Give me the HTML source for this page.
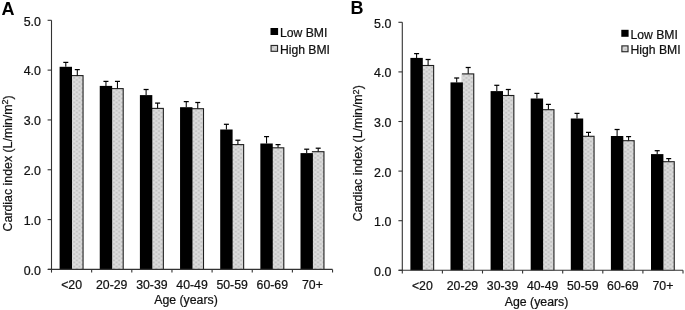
<!DOCTYPE html>
<html><head><meta charset="utf-8"><style>
html,body{margin:0;padding:0;background:#fff;}
body{width:685px;height:310px;overflow:hidden;}
svg{display:block;filter:grayscale(100%) blur(0.3px);}
.t{font-family:"Liberation Sans",sans-serif;font-size:12px;fill:#111;stroke:#111;stroke-width:0.22px;}
.L{font-family:"Liberation Sans",sans-serif;font-size:18px;font-weight:bold;fill:#000;}
</style></head><body>
<svg width="685" height="310" viewBox="0 0 685 310">
<defs><pattern id="pat" width="5.3" height="4.1" patternUnits="userSpaceOnUse"><rect width="5.3" height="4.1" fill="#d6d6d6"/><circle cx="0" cy="0" r="0.9" fill="#bdbdbd"/><circle cx="5.3" cy="0" r="0.9" fill="#bdbdbd"/><circle cx="0" cy="4.1" r="0.9" fill="#bdbdbd"/><circle cx="5.3" cy="4.1" r="0.9" fill="#bdbdbd"/><circle cx="2.65" cy="2.05" r="0.9" fill="#bdbdbd"/><circle cx="2.65" cy="0" r="0.7" fill="#e4e4e4"/><circle cx="2.65" cy="4.1" r="0.7" fill="#e4e4e4"/><circle cx="0" cy="2.05" r="0.7" fill="#e4e4e4"/><circle cx="5.3" cy="2.05" r="0.7" fill="#e4e4e4"/></pattern></defs>
<rect width="685" height="310" fill="#fff"/>
<rect x="71.00" y="75.05" width="12.60" height="194.35" fill="#1e1e1e"/>
<rect x="71.00" y="76.15" width="11.50" height="193.25" fill="url(#pat)"/>
<rect x="59.60" y="66.80" width="12.40" height="202.60" fill="#000"/>
<line x1="65.80" y1="66.80" x2="65.80" y2="62.40" stroke="#000" stroke-width="1.05"/>
<line x1="63.30" y1="62.40" x2="68.30" y2="62.40" stroke="#000" stroke-width="1.25"/>
<line x1="77.30" y1="75.40" x2="77.30" y2="69.60" stroke="#000" stroke-width="1.05"/>
<line x1="74.80" y1="69.60" x2="79.80" y2="69.60" stroke="#000" stroke-width="1.25"/>
<rect x="111.15" y="88.05" width="12.60" height="181.35" fill="#1e1e1e"/>
<rect x="111.15" y="89.15" width="11.50" height="180.25" fill="url(#pat)"/>
<rect x="99.75" y="85.90" width="12.40" height="183.50" fill="#000"/>
<line x1="105.95" y1="85.90" x2="105.95" y2="81.40" stroke="#000" stroke-width="1.05"/>
<line x1="103.45" y1="81.40" x2="108.45" y2="81.40" stroke="#000" stroke-width="1.25"/>
<line x1="117.45" y1="88.40" x2="117.45" y2="81.40" stroke="#000" stroke-width="1.05"/>
<line x1="114.95" y1="81.40" x2="119.95" y2="81.40" stroke="#000" stroke-width="1.25"/>
<rect x="151.30" y="107.85" width="12.60" height="161.55" fill="#1e1e1e"/>
<rect x="151.30" y="108.95" width="11.50" height="160.45" fill="url(#pat)"/>
<rect x="139.90" y="95.10" width="12.40" height="174.30" fill="#000"/>
<line x1="146.10" y1="95.10" x2="146.10" y2="89.50" stroke="#000" stroke-width="1.05"/>
<line x1="143.60" y1="89.50" x2="148.60" y2="89.50" stroke="#000" stroke-width="1.25"/>
<line x1="157.60" y1="108.20" x2="157.60" y2="103.10" stroke="#000" stroke-width="1.05"/>
<line x1="155.10" y1="103.10" x2="160.10" y2="103.10" stroke="#000" stroke-width="1.25"/>
<rect x="191.45" y="108.15" width="12.60" height="161.25" fill="#1e1e1e"/>
<rect x="191.45" y="109.25" width="11.50" height="160.15" fill="url(#pat)"/>
<rect x="180.05" y="107.20" width="12.40" height="162.20" fill="#000"/>
<line x1="186.25" y1="107.20" x2="186.25" y2="101.60" stroke="#000" stroke-width="1.05"/>
<line x1="183.75" y1="101.60" x2="188.75" y2="101.60" stroke="#000" stroke-width="1.25"/>
<line x1="197.75" y1="108.50" x2="197.75" y2="102.50" stroke="#000" stroke-width="1.05"/>
<line x1="195.25" y1="102.50" x2="200.25" y2="102.50" stroke="#000" stroke-width="1.25"/>
<rect x="231.60" y="144.05" width="12.60" height="125.35" fill="#1e1e1e"/>
<rect x="231.60" y="145.15" width="11.50" height="124.25" fill="url(#pat)"/>
<rect x="220.20" y="129.50" width="12.40" height="139.90" fill="#000"/>
<line x1="226.40" y1="129.50" x2="226.40" y2="124.30" stroke="#000" stroke-width="1.05"/>
<line x1="223.90" y1="124.30" x2="228.90" y2="124.30" stroke="#000" stroke-width="1.25"/>
<line x1="237.90" y1="144.40" x2="237.90" y2="140.20" stroke="#000" stroke-width="1.05"/>
<line x1="235.40" y1="140.20" x2="240.40" y2="140.20" stroke="#000" stroke-width="1.25"/>
<rect x="271.75" y="147.25" width="12.60" height="122.15" fill="#1e1e1e"/>
<rect x="271.75" y="148.35" width="11.50" height="121.05" fill="url(#pat)"/>
<rect x="260.35" y="143.50" width="12.40" height="125.90" fill="#000"/>
<line x1="266.55" y1="143.50" x2="266.55" y2="136.60" stroke="#000" stroke-width="1.05"/>
<line x1="264.05" y1="136.60" x2="269.05" y2="136.60" stroke="#000" stroke-width="1.25"/>
<line x1="278.05" y1="147.60" x2="278.05" y2="144.60" stroke="#000" stroke-width="1.05"/>
<line x1="275.55" y1="144.60" x2="280.55" y2="144.60" stroke="#000" stroke-width="1.25"/>
<rect x="311.90" y="151.15" width="12.60" height="118.25" fill="#1e1e1e"/>
<rect x="311.90" y="152.25" width="11.50" height="117.15" fill="url(#pat)"/>
<rect x="300.50" y="153.10" width="12.40" height="116.30" fill="#000"/>
<line x1="306.70" y1="153.10" x2="306.70" y2="149.20" stroke="#000" stroke-width="1.05"/>
<line x1="304.20" y1="149.20" x2="309.20" y2="149.20" stroke="#000" stroke-width="1.25"/>
<line x1="318.20" y1="151.50" x2="318.20" y2="148.20" stroke="#000" stroke-width="1.05"/>
<line x1="315.70" y1="148.20" x2="320.70" y2="148.20" stroke="#000" stroke-width="1.25"/>
<line x1="51.50" y1="20.30" x2="51.50" y2="272.60" stroke="#333" stroke-width="1.1"/>
<line x1="47.90" y1="269.40" x2="332.55" y2="269.40" stroke="#333" stroke-width="1.1"/>
<line x1="91.65" y1="269.40" x2="91.65" y2="272.60" stroke="#333" stroke-width="1.1"/>
<line x1="131.80" y1="269.40" x2="131.80" y2="272.60" stroke="#333" stroke-width="1.1"/>
<line x1="171.95" y1="269.40" x2="171.95" y2="272.60" stroke="#333" stroke-width="1.1"/>
<line x1="212.10" y1="269.40" x2="212.10" y2="272.60" stroke="#333" stroke-width="1.1"/>
<line x1="252.25" y1="269.40" x2="252.25" y2="272.60" stroke="#333" stroke-width="1.1"/>
<line x1="292.40" y1="269.40" x2="292.40" y2="272.60" stroke="#333" stroke-width="1.1"/>
<line x1="332.55" y1="269.40" x2="332.55" y2="272.60" stroke="#333" stroke-width="1.1"/>
<line x1="47.60" y1="269.40" x2="51.50" y2="269.40" stroke="#333" stroke-width="1.1"/>
<text x="40.90" y="274.70" text-anchor="end" class="t" style="font-size:12.4px">0.0</text>
<line x1="47.60" y1="219.58" x2="51.50" y2="219.58" stroke="#333" stroke-width="1.1"/>
<text x="40.90" y="224.88" text-anchor="end" class="t" style="font-size:12.4px">1.0</text>
<line x1="47.60" y1="169.76" x2="51.50" y2="169.76" stroke="#333" stroke-width="1.1"/>
<text x="40.90" y="175.06" text-anchor="end" class="t" style="font-size:12.4px">2.0</text>
<line x1="47.60" y1="119.94" x2="51.50" y2="119.94" stroke="#333" stroke-width="1.1"/>
<text x="40.90" y="125.24" text-anchor="end" class="t" style="font-size:12.4px">3.0</text>
<line x1="47.60" y1="70.12" x2="51.50" y2="70.12" stroke="#333" stroke-width="1.1"/>
<text x="40.90" y="75.42" text-anchor="end" class="t" style="font-size:12.4px">4.0</text>
<line x1="47.60" y1="20.30" x2="51.50" y2="20.30" stroke="#333" stroke-width="1.1"/>
<text x="40.90" y="25.60" text-anchor="end" class="t" style="font-size:12.4px">5.0</text>
<text x="71.58" y="289.00" text-anchor="middle" class="t" style="font-size:12.3px">&lt;20</text>
<text x="111.72" y="289.00" text-anchor="middle" class="t" style="font-size:12.3px">20-29</text>
<text x="151.88" y="289.00" text-anchor="middle" class="t" style="font-size:12.3px">30-39</text>
<text x="192.03" y="289.00" text-anchor="middle" class="t" style="font-size:12.3px">40-49</text>
<text x="232.17" y="289.00" text-anchor="middle" class="t" style="font-size:12.3px">50-59</text>
<text x="272.32" y="289.00" text-anchor="middle" class="t" style="font-size:12.3px">60-69</text>
<text x="312.47" y="289.00" text-anchor="middle" class="t" style="font-size:12.3px">70+</text>
<text x="154.20" y="304.30" class="t" style="font-size:12.3px">Age (years)</text>
<text transform="translate(12.00,231.40) rotate(-90)" class="t" style="font-size:12.35px">Cardiac index (L/min/m<tspan dy="-3.6" style="font-size:9px">2</tspan><tspan dy="3.6">)</tspan></text>
<rect x="270.50" y="28.00" width="7.60" height="7" fill="#000"/>
<rect x="270.50" y="44.90" width="7.60" height="7" fill="#2a2a2a"/>
<rect x="271.65" y="46.05" width="5.30" height="4.7" fill="url(#pat)"/>
<text x="279.90" y="36.90" class="t" style="font-size:12.2px">Low BMI</text>
<text x="279.90" y="54.30" class="t" style="font-size:12.2px">High BMI</text>
<text x="1.50" y="14.60" class="L">A</text>
<rect x="421.80" y="64.95" width="12.40" height="205.35" fill="#1e1e1e"/>
<rect x="421.80" y="66.05" width="11.30" height="204.25" fill="url(#pat)"/>
<rect x="410.40" y="57.90" width="12.40" height="212.40" fill="#000"/>
<line x1="416.60" y1="57.90" x2="416.60" y2="53.60" stroke="#000" stroke-width="1.05"/>
<line x1="414.10" y1="53.60" x2="419.10" y2="53.60" stroke="#000" stroke-width="1.25"/>
<line x1="428.10" y1="65.30" x2="428.10" y2="59.50" stroke="#000" stroke-width="1.05"/>
<line x1="425.60" y1="59.50" x2="430.60" y2="59.50" stroke="#000" stroke-width="1.25"/>
<rect x="461.90" y="73.35" width="12.40" height="196.95" fill="#1e1e1e"/>
<rect x="461.90" y="74.45" width="11.30" height="195.85" fill="url(#pat)"/>
<rect x="450.50" y="82.40" width="12.40" height="187.90" fill="#000"/>
<line x1="456.70" y1="82.40" x2="456.70" y2="78.00" stroke="#000" stroke-width="1.05"/>
<line x1="454.20" y1="78.00" x2="459.20" y2="78.00" stroke="#000" stroke-width="1.25"/>
<line x1="468.20" y1="73.70" x2="468.20" y2="67.50" stroke="#000" stroke-width="1.05"/>
<line x1="465.70" y1="67.50" x2="470.70" y2="67.50" stroke="#000" stroke-width="1.25"/>
<rect x="502.00" y="94.95" width="12.40" height="175.35" fill="#1e1e1e"/>
<rect x="502.00" y="96.05" width="11.30" height="174.25" fill="url(#pat)"/>
<rect x="490.60" y="91.10" width="12.40" height="179.20" fill="#000"/>
<line x1="496.80" y1="91.10" x2="496.80" y2="85.30" stroke="#000" stroke-width="1.05"/>
<line x1="494.30" y1="85.30" x2="499.30" y2="85.30" stroke="#000" stroke-width="1.25"/>
<line x1="508.30" y1="95.30" x2="508.30" y2="89.50" stroke="#000" stroke-width="1.05"/>
<line x1="505.80" y1="89.50" x2="510.80" y2="89.50" stroke="#000" stroke-width="1.25"/>
<rect x="542.10" y="109.15" width="12.40" height="161.15" fill="#1e1e1e"/>
<rect x="542.10" y="110.25" width="11.30" height="160.05" fill="url(#pat)"/>
<rect x="530.70" y="98.50" width="12.40" height="171.80" fill="#000"/>
<line x1="536.90" y1="98.50" x2="536.90" y2="93.40" stroke="#000" stroke-width="1.05"/>
<line x1="534.40" y1="93.40" x2="539.40" y2="93.40" stroke="#000" stroke-width="1.25"/>
<line x1="548.40" y1="109.50" x2="548.40" y2="104.40" stroke="#000" stroke-width="1.05"/>
<line x1="545.90" y1="104.40" x2="550.90" y2="104.40" stroke="#000" stroke-width="1.25"/>
<rect x="582.20" y="135.75" width="12.40" height="134.55" fill="#1e1e1e"/>
<rect x="582.20" y="136.85" width="11.30" height="133.45" fill="url(#pat)"/>
<rect x="570.80" y="118.50" width="12.40" height="151.80" fill="#000"/>
<line x1="577.00" y1="118.50" x2="577.00" y2="113.40" stroke="#000" stroke-width="1.05"/>
<line x1="574.50" y1="113.40" x2="579.50" y2="113.40" stroke="#000" stroke-width="1.25"/>
<line x1="588.50" y1="136.10" x2="588.50" y2="132.40" stroke="#000" stroke-width="1.05"/>
<line x1="586.00" y1="132.40" x2="591.00" y2="132.40" stroke="#000" stroke-width="1.25"/>
<rect x="622.30" y="140.15" width="12.40" height="130.15" fill="#1e1e1e"/>
<rect x="622.30" y="141.25" width="11.30" height="129.05" fill="url(#pat)"/>
<rect x="610.90" y="136.00" width="12.40" height="134.30" fill="#000"/>
<line x1="617.10" y1="136.00" x2="617.10" y2="129.50" stroke="#000" stroke-width="1.05"/>
<line x1="614.60" y1="129.50" x2="619.60" y2="129.50" stroke="#000" stroke-width="1.25"/>
<line x1="628.60" y1="140.50" x2="628.60" y2="136.60" stroke="#000" stroke-width="1.05"/>
<line x1="626.10" y1="136.60" x2="631.10" y2="136.60" stroke="#000" stroke-width="1.25"/>
<rect x="662.40" y="161.15" width="12.40" height="109.15" fill="#1e1e1e"/>
<rect x="662.40" y="162.25" width="11.30" height="108.05" fill="url(#pat)"/>
<rect x="651.00" y="154.10" width="12.40" height="116.20" fill="#000"/>
<line x1="657.20" y1="154.10" x2="657.20" y2="150.70" stroke="#000" stroke-width="1.05"/>
<line x1="654.70" y1="150.70" x2="659.70" y2="150.70" stroke="#000" stroke-width="1.25"/>
<line x1="668.70" y1="161.50" x2="668.70" y2="158.60" stroke="#000" stroke-width="1.05"/>
<line x1="666.20" y1="158.60" x2="671.20" y2="158.60" stroke="#000" stroke-width="1.25"/>
<line x1="402.30" y1="22.30" x2="402.30" y2="273.50" stroke="#333" stroke-width="1.1"/>
<line x1="398.70" y1="270.30" x2="683.00" y2="270.30" stroke="#333" stroke-width="1.1"/>
<line x1="442.40" y1="270.30" x2="442.40" y2="273.50" stroke="#333" stroke-width="1.1"/>
<line x1="482.50" y1="270.30" x2="482.50" y2="273.50" stroke="#333" stroke-width="1.1"/>
<line x1="522.60" y1="270.30" x2="522.60" y2="273.50" stroke="#333" stroke-width="1.1"/>
<line x1="562.70" y1="270.30" x2="562.70" y2="273.50" stroke="#333" stroke-width="1.1"/>
<line x1="602.80" y1="270.30" x2="602.80" y2="273.50" stroke="#333" stroke-width="1.1"/>
<line x1="642.90" y1="270.30" x2="642.90" y2="273.50" stroke="#333" stroke-width="1.1"/>
<line x1="683.00" y1="270.30" x2="683.00" y2="273.50" stroke="#333" stroke-width="1.1"/>
<line x1="398.40" y1="270.30" x2="402.30" y2="270.30" stroke="#333" stroke-width="1.1"/>
<text x="391.30" y="275.80" text-anchor="end" class="t" style="font-size:12.4px">0.0</text>
<line x1="398.40" y1="220.70" x2="402.30" y2="220.70" stroke="#333" stroke-width="1.1"/>
<text x="391.30" y="226.20" text-anchor="end" class="t" style="font-size:12.4px">1.0</text>
<line x1="398.40" y1="171.10" x2="402.30" y2="171.10" stroke="#333" stroke-width="1.1"/>
<text x="391.30" y="176.60" text-anchor="end" class="t" style="font-size:12.4px">2.0</text>
<line x1="398.40" y1="121.50" x2="402.30" y2="121.50" stroke="#333" stroke-width="1.1"/>
<text x="391.30" y="127.00" text-anchor="end" class="t" style="font-size:12.4px">3.0</text>
<line x1="398.40" y1="71.90" x2="402.30" y2="71.90" stroke="#333" stroke-width="1.1"/>
<text x="391.30" y="77.40" text-anchor="end" class="t" style="font-size:12.4px">4.0</text>
<line x1="398.40" y1="22.30" x2="402.30" y2="22.30" stroke="#333" stroke-width="1.1"/>
<text x="391.30" y="27.80" text-anchor="end" class="t" style="font-size:12.4px">5.0</text>
<text x="422.35" y="290.40" text-anchor="middle" class="t" style="font-size:12.3px">&lt;20</text>
<text x="462.45" y="290.40" text-anchor="middle" class="t" style="font-size:12.3px">20-29</text>
<text x="502.55" y="290.40" text-anchor="middle" class="t" style="font-size:12.3px">30-39</text>
<text x="542.65" y="290.40" text-anchor="middle" class="t" style="font-size:12.3px">40-49</text>
<text x="582.75" y="290.40" text-anchor="middle" class="t" style="font-size:12.3px">50-59</text>
<text x="622.85" y="290.40" text-anchor="middle" class="t" style="font-size:12.3px">60-69</text>
<text x="662.95" y="290.40" text-anchor="middle" class="t" style="font-size:12.3px">70+</text>
<text x="504.80" y="306.30" class="t" style="font-size:12.3px">Age (years)</text>
<text transform="translate(362.40,221.30) rotate(-90)" class="t" style="font-size:12.35px">Cardiac index (L/min/m<tspan dy="-3.6" style="font-size:9px">2</tspan><tspan dy="3.6">)</tspan></text>
<rect x="621.30" y="29.80" width="7.30" height="7" fill="#000"/>
<rect x="621.30" y="45.30" width="7.30" height="7" fill="#2a2a2a"/>
<rect x="622.45" y="46.45" width="5.00" height="4.7" fill="url(#pat)"/>
<text x="630.50" y="38.50" class="t" style="font-size:12.2px">Low BMI</text>
<text x="630.50" y="53.80" class="t" style="font-size:12.2px">High BMI</text>
<text x="350.50" y="14.40" class="L">B</text>
</svg>
</body></html>
